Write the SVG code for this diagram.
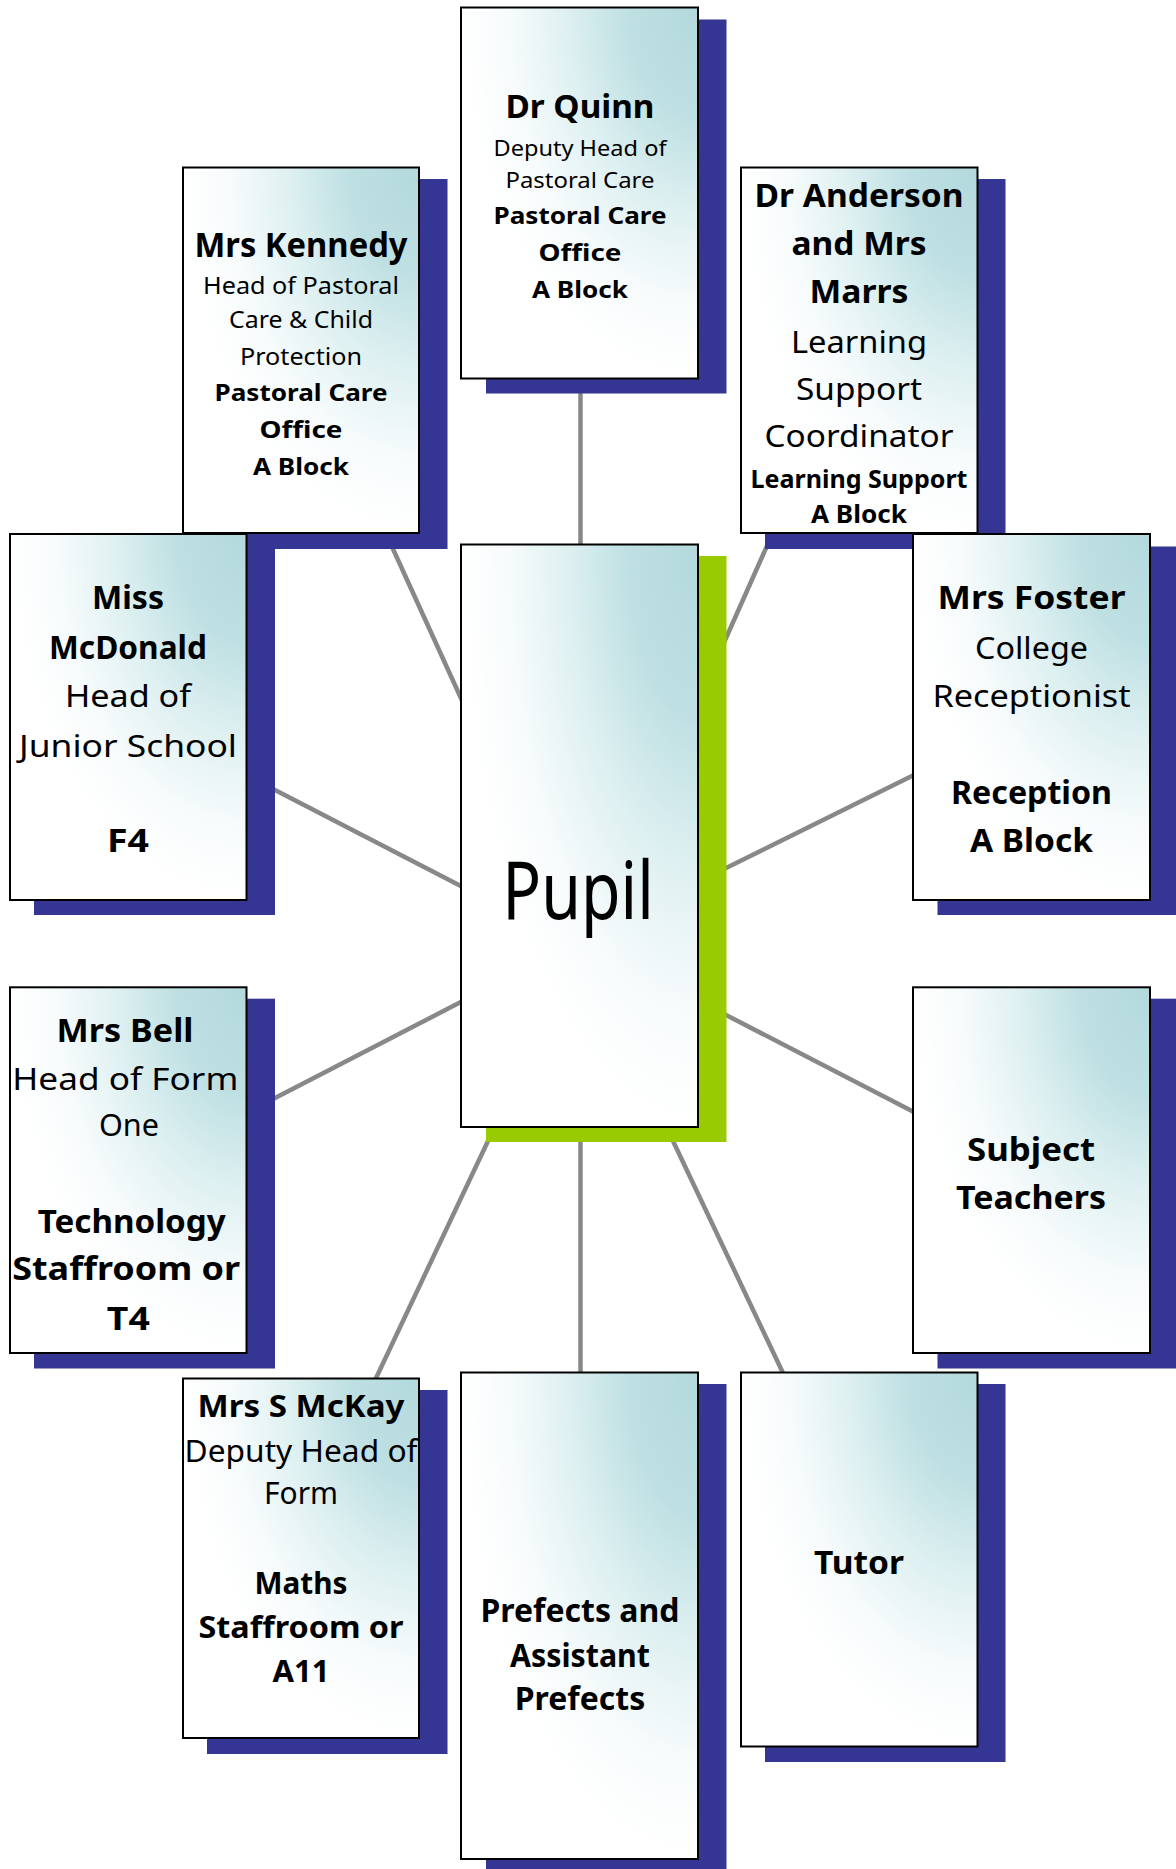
<svg xmlns="http://www.w3.org/2000/svg" width="1176" height="1869" viewBox="0 0 1176 1869">
<defs>
<radialGradient id="g" cx="1" cy="0" r="1" fx="1" fy="0">
<stop offset="0" stop-color="#b3d9dd"/>
<stop offset="0.3" stop-color="#bfe0e3"/>
<stop offset="0.55" stop-color="#def0f1"/>
<stop offset="0.8" stop-color="#f7fbfc"/>
<stop offset="1" stop-color="#ffffff"/>
</radialGradient>
<style>
.sh{fill:#353594}
.gs{fill:#99cc00}
.bx{fill:url(#g);stroke:#000;stroke-width:2}
.c line{stroke:#888;stroke-width:4.5}
text{font-family:"Comic Sans MS","Noto Sans","DejaVu Sans",sans-serif;text-anchor:middle;fill:#000}
.b{font-weight:bold}
</style>
</defs>
<rect width="1176" height="1869" fill="#fff"/>
<g class="c" id="connectors">
<line x1="580.5" y1="380" x2="580.5" y2="545"/>
<line x1="379.8" y1="520" x2="465" y2="707"/>
<line x1="778.5" y1="520" x2="720.7" y2="650"/>
<line x1="260" y1="782.3" x2="470" y2="890.7"/>
<line x1="715" y1="873.4" x2="925" y2="769.6"/>
<line x1="262" y1="1104.7" x2="470" y2="997.3"/>
<line x1="715" y1="1009.3" x2="925" y2="1117.7"/>
<line x1="493.2" y1="1130" x2="370.4" y2="1390"/>
<line x1="580.5" y1="1130" x2="580.5" y2="1373"/>
<line x1="667.8" y1="1130" x2="788.7" y2="1385"/>
</g>
<g id="quinn">
<rect class="sh" x="486" y="19.5" width="240.5" height="374"/>
<rect class="bx" x="461" y="7.5" width="237" height="371"/>
<text class="b" x="580" y="118.3" font-size="33" textLength="149" lengthAdjust="spacingAndGlyphs">Dr Quinn</text>
<text x="580" y="155.7" font-size="22" textLength="173" lengthAdjust="spacingAndGlyphs">Deputy Head of</text>
<text x="580" y="187.7" font-size="22" textLength="149" lengthAdjust="spacingAndGlyphs">Pastoral Care</text>
<text class="b" x="580" y="224" font-size="24" textLength="173" lengthAdjust="spacingAndGlyphs">Pastoral Care</text>
<text class="b" x="580" y="261" font-size="24" textLength="83" lengthAdjust="spacingAndGlyphs">Office</text>
<text class="b" x="580" y="297.7" font-size="24" textLength="96" lengthAdjust="spacingAndGlyphs">A Block</text>
</g>
<g id="kennedy">
<rect class="sh" x="207.5" y="179" width="240" height="370"/>
<rect class="bx" x="183" y="167.5" width="236" height="365.5"/>
<text class="b" x="301" y="256.7" font-size="34" textLength="213" lengthAdjust="spacingAndGlyphs">Mrs Kennedy</text>
<text x="301" y="294" font-size="24" textLength="196" lengthAdjust="spacingAndGlyphs">Head of Pastoral</text>
<text x="301" y="328.3" font-size="24" textLength="144" lengthAdjust="spacingAndGlyphs">Care &amp; Child</text>
<text x="301" y="365" font-size="24" textLength="122" lengthAdjust="spacingAndGlyphs">Protection</text>
<text class="b" x="301" y="400.7" font-size="24" textLength="173" lengthAdjust="spacingAndGlyphs">Pastoral Care</text>
<text class="b" x="301" y="438.3" font-size="24" textLength="83" lengthAdjust="spacingAndGlyphs">Office</text>
<text class="b" x="301" y="475" font-size="24" textLength="96" lengthAdjust="spacingAndGlyphs">A Block</text>
</g>
<g id="anderson">
<rect class="sh" x="765" y="179" width="240.5" height="370"/>
<rect class="bx" x="741" y="167.5" width="236.5" height="365.5"/>
<text class="b" x="859" y="206.7" font-size="33" textLength="209" lengthAdjust="spacingAndGlyphs">Dr Anderson</text>
<text class="b" x="859" y="255" font-size="33" textLength="135" lengthAdjust="spacingAndGlyphs">and Mrs</text>
<text class="b" x="859" y="302.7" font-size="33" textLength="99" lengthAdjust="spacingAndGlyphs">Marrs</text>
<text x="859" y="352.7" font-size="31" textLength="136" lengthAdjust="spacingAndGlyphs">Learning</text>
<text x="859" y="400" font-size="31" textLength="126" lengthAdjust="spacingAndGlyphs">Support</text>
<text x="859" y="447.3" font-size="31" textLength="189" lengthAdjust="spacingAndGlyphs">Coordinator</text>
<text class="b" x="859" y="488.3" font-size="25" textLength="217" lengthAdjust="spacingAndGlyphs">Learning Support</text>
<text class="b" x="859" y="523.3" font-size="25" textLength="96" lengthAdjust="spacingAndGlyphs">A Block</text>
</g>
<g id="mcdonald">
<rect class="sh" x="34" y="546.5" width="241" height="368.5"/>
<rect class="bx" x="10" y="534" width="236.5" height="366"/>
<text class="b" x="128" y="609" font-size="33" textLength="72" lengthAdjust="spacingAndGlyphs">Miss</text>
<text class="b" x="128" y="659" font-size="33" textLength="158" lengthAdjust="spacingAndGlyphs">McDonald</text>
<text x="128" y="706.7" font-size="31" textLength="126" lengthAdjust="spacingAndGlyphs">Head of</text>
<text x="128" y="756.7" font-size="31" textLength="218" lengthAdjust="spacingAndGlyphs">Junior School</text>
<text class="b" x="128" y="851.7" font-size="33" textLength="42" lengthAdjust="spacingAndGlyphs">F4</text>
</g>
<g id="foster">
<rect class="sh" x="937.5" y="546.5" width="241" height="368.5"/>
<rect class="bx" x="913" y="534" width="237" height="366"/>
<text class="b" x="1031.5" y="609" font-size="33" textLength="188" lengthAdjust="spacingAndGlyphs">Mrs Foster</text>
<text x="1031.5" y="659" font-size="31" textLength="113" lengthAdjust="spacingAndGlyphs">College</text>
<text x="1031.5" y="706.7" font-size="31" textLength="198" lengthAdjust="spacingAndGlyphs">Receptionist</text>
<text class="b" x="1031.5" y="804.3" font-size="33" textLength="161" lengthAdjust="spacingAndGlyphs">Reception</text>
<text class="b" x="1031.5" y="851.7" font-size="33" textLength="123" lengthAdjust="spacingAndGlyphs">A Block</text>
</g>
<g id="bell">
<rect class="sh" x="34" y="998.7" width="241" height="369.8"/>
<rect class="bx" x="10" y="987.3" width="236.5" height="365.7"/>
<text class="b" x="125" y="1042" font-size="33" textLength="137" lengthAdjust="spacingAndGlyphs">Mrs Bell</text>
<text x="125.3" y="1089.7" font-size="31" textLength="226" lengthAdjust="spacingAndGlyphs">Head of Form</text>
<text x="129" y="1136.3" font-size="31" textLength="60" lengthAdjust="spacingAndGlyphs">One</text>
<text class="b" x="131.7" y="1233" font-size="33" textLength="188" lengthAdjust="spacingAndGlyphs">Technology</text>
<text class="b" x="126.2" y="1279.7" font-size="33" textLength="228" lengthAdjust="spacingAndGlyphs">Staffroom or</text>
<text class="b" x="128.3" y="1329.7" font-size="33" textLength="43" lengthAdjust="spacingAndGlyphs">T4</text>
</g>
<g id="subject">
<rect class="sh" x="937.5" y="998.7" width="241" height="369.8"/>
<rect class="bx" x="913" y="987.3" width="237" height="365.7"/>
<text class="b" x="1031" y="1161" font-size="33" textLength="128" lengthAdjust="spacingAndGlyphs">Subject</text>
<text class="b" x="1031" y="1208.7" font-size="33" textLength="150" lengthAdjust="spacingAndGlyphs">Teachers</text>
</g>
<g id="mckay">
<rect class="sh" x="207" y="1390" width="240.5" height="364"/>
<rect class="bx" x="183" y="1378.5" width="236" height="359.5"/>
<text class="b" x="301" y="1416.7" font-size="31" textLength="207" lengthAdjust="spacingAndGlyphs">Mrs S McKay</text>
<text x="301" y="1461.7" font-size="31" textLength="233" lengthAdjust="spacingAndGlyphs">Deputy Head of</text>
<text x="301" y="1504.3" font-size="31" textLength="74" lengthAdjust="spacingAndGlyphs">Form</text>
<text class="b" x="301" y="1594.3" font-size="30" textLength="93" lengthAdjust="spacingAndGlyphs">Maths</text>
<text class="b" x="301" y="1638.3" font-size="30" textLength="205" lengthAdjust="spacingAndGlyphs">Staffroom or</text>
<text class="b" x="301" y="1681.7" font-size="30" textLength="57" lengthAdjust="spacingAndGlyphs">A11</text>
</g>
<g id="prefects">
<rect class="sh" x="486" y="1384" width="240.5" height="490"/>
<rect class="bx" x="461" y="1372.5" width="237" height="486.5"/>
<text class="b" x="580" y="1622" font-size="32" textLength="199" lengthAdjust="spacingAndGlyphs">Prefects and</text>
<text class="b" x="580" y="1666.7" font-size="32" textLength="140" lengthAdjust="spacingAndGlyphs">Assistant</text>
<text class="b" x="580" y="1710" font-size="32" textLength="130.5" lengthAdjust="spacingAndGlyphs">Prefects</text>
</g>
<g id="tutor">
<rect class="sh" x="765" y="1384" width="240.5" height="378"/>
<rect class="bx" x="741" y="1372.5" width="236.5" height="374"/>
<text class="b" x="859" y="1574" font-size="33" textLength="90" lengthAdjust="spacingAndGlyphs">Tutor</text>
</g>
<g id="pupil">
<rect class="gs" x="486" y="556" width="240.5" height="586"/>
<rect class="bx" x="461" y="544.5" width="237" height="582.5"/>
<text x="578" y="919" font-size="80" textLength="151.5" lengthAdjust="spacingAndGlyphs">Pupil</text>
</g>
</svg>
